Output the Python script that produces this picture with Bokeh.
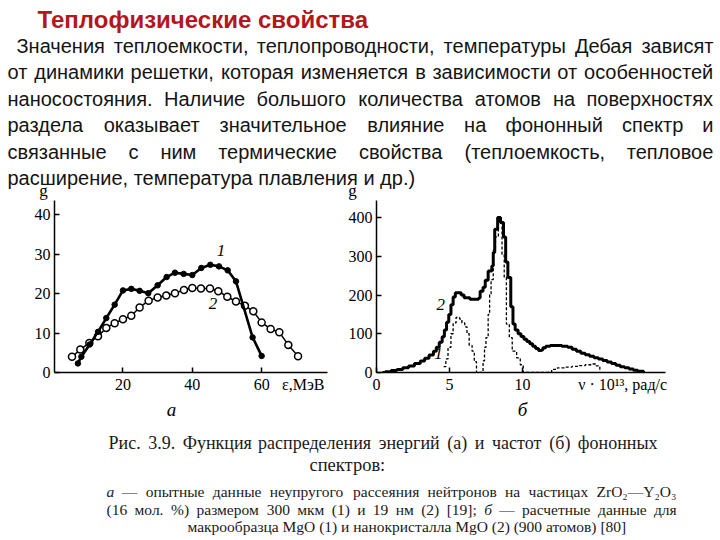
from bokeh.plotting import figure
from bokeh.layouts import column, row
from bokeh.models import Range1d, FixedTicker, Label, LinearAxis
from bokeh.core.properties import value
from bokeh.embed import file_html
from bokeh.resources import INLINE

# ---------------- text content ----------------
TITLE = "Теплофизические свойства"
PARA_LINES = [
    "Значения теплоемкости, теплопроводности, температуры Дебая зависят",
    "от динамики решетки, которая изменяется в зависимости от особенностей",
    "наносостояния. Наличие большого количества атомов на поверхностях",
    "раздела оказывает значительное влияние на фононный спектр и",
    "связанные с ним термические свойства (теплоемкость, тепловое",
    "расширение, температура плавления и др.)",
]
PARA_START = [16, 7, 7, 7, 7, 7]
PARA_JUSTIFY = [True, True, True, True, True, False]
PARA_BASE = [45, 71, 98, 124, 151, 177]
PARA_RIGHT = 713

CAPTION_LINES = [
    "Рис. 3.9. Функция распределения энергий (а) и частот (б) фононных",
    "спектров:",
    "а — опытные данные неупругого рассеяния нейтронов на частицах ZrO₂—Y₂O₃",
    "(16 мол. %) размером 300 мкм (1) и 19 нм (2) [19]; б — расчетные данные для",
    "макрообразца MgO (1) и нанокристалла MgO (2) (900 атомов) [80]",
]
CAP_START = [108, 309, 106, 106, 187]
CAP_END = [657, None, 676, 676, None]
CAP_BASE = [17, 39, 66, 84, 101]
CAP_SIZE = [18, 18.5, 15.5, 15.5, 15.5]

# ---------------- chart (а) data ----------------
A_X_TICKS = [20, 40, 60]
A_Y_TICKS = [0, 10, 20, 30, 40]
A_UNIT = {72: "ε,МэВ"}
A_NAME = {34: "а"}
a1_x = [7.0, 8.0, 10.4, 12.8, 15.2, 17.6, 20.0, 22.4, 24.8, 27.3, 30.0, 32.6,
        35.0, 37.5, 40.0, 42.6, 45.2, 47.7, 50.2, 52.6, 57.4, 60.0]
a1_y = [2.3, 4.0, 7.1, 10.3, 13.8, 17.2, 20.8, 21.2, 20.7, 20.1, 22.1, 24.2,
        25.3, 25.0, 24.7, 26.5, 27.3, 26.9, 25.9, 23.1, 8.9, 4.2]
a2_x = [5.3, 7.7, 10.3, 12.8, 15.2, 17.6, 20.0, 22.4, 24.8, 27.4, 30.0, 32.5,
        35.0, 37.6, 40.0, 42.5, 45.1, 47.5, 50.1, 52.6, 55.2, 57.6, 60.0, 62.6,
        65.1, 67.7, 70.5]
a2_y = [4.0, 5.8, 7.5, 9.2, 11.3, 12.5, 13.5, 14.4, 16.5, 18.2, 19.0, 19.5,
        20.1, 20.9, 21.4, 21.3, 21.3, 20.6, 19.2, 18.0, 16.9, 15.5, 12.7, 11.0,
        10.2, 7.0, 4.1]

# ---------------- chart (б) data (step histograms) ----------------
B_X_TICKS = [0, 5, 10]
B_Y_TICKS = [0, 100, 200, 300, 400]
B_UNIT = {17: "ν · 10¹³,  рад/с"}
B_NAME = {10: "б"}
b2_x = [0.4, 0.6, 1.0, 1.4, 1.8, 2.2, 2.6, 3.0, 3.3, 3.6, 3.9, 4.1, 4.3, 4.5,
        4.65, 4.8, 4.95, 5.1, 5.25, 5.4, 5.8, 6.0, 6.4, 7.0, 7.1, 7.3, 7.45,
        7.65, 7.9, 8.0, 8.1, 8.3, 8.5, 8.7, 8.85, 9.0, 9.2, 9.35, 9.5, 9.7,
        9.9, 10.1, 10.3, 10.5, 10.7, 10.9, 11.1, 11.3, 11.4, 11.6, 11.9, 12.3,
        12.7, 13.1, 13.4, 13.7, 14.0, 14.3, 14.6, 14.9, 15.2, 15.5, 15.8, 16.1,
        16.4, 16.7, 17.0, 17.3, 17.6, 17.9, 18.3]
b2_y = [0, 2, 5, 8, 12, 17, 23, 30, 37, 45, 55, 65, 78, 92,
        110, 130, 150, 175, 195, 206, 200, 193, 189, 192, 210, 220, 238,
        262, 275, 310, 370, 400, 387, 350, 285, 245, 170, 125, 110, 100,
        93, 86, 80, 74, 68, 62, 57, 58, 64, 68, 70, 70,
        68, 65, 60, 55, 50, 46, 42, 38, 35, 31, 27, 23,
        19, 15, 12, 9, 6, 3, 0]
b1_x = [4.6, 4.75, 4.9, 5.1, 5.25, 5.45, 5.7, 5.85, 6.05, 6.2, 6.35, 6.55, 6.7,
        6.85, 7.3, 7.4, 7.5, 7.65, 7.75, 7.85, 8.0, 8.15, 8.35, 8.6, 8.75, 8.9,
        9.1, 9.3, 9.6, 9.85, 10.05, 12.0, 12.4, 12.9, 13.4, 13.9, 14.3, 14.7,
        15.0, 15.3]
b1_y = [15, 35, 65, 100, 128, 142, 138, 128, 118, 100, 70, 55, 28,
        0, 30, 65, 90, 150, 200, 240, 315, 350, 385, 305, 245, 125,
        90, 55, 38, 20, 0, 8, 12, 14, 16, 18, 20, 22,
        17, 0]

# y-axis name ("g") of each chart, placed just above its axis
G_LABEL_X = [43, 352]
G_LABEL_BASE = 190

SERIF = "Liberation Serif"
SANS = "Liberation Sans"

# approximate advance widths (1/1000 em) used to justify lines
SANS_W = {'а': 556, 'б': 573, 'в': 531, 'г': 365, 'д': 583, 'е': 556, 'ж': 669, 'з': 458,
          'и': 559, 'й': 559, 'к': 438, 'л': 583, 'м': 688, 'н': 552, 'о': 556, 'п': 542,
          'р': 556, 'с': 500, 'т': 458, 'у': 500, 'ф': 823, 'х': 500, 'ц': 573, 'ч': 521,
          'ш': 802, 'щ': 823, 'ъ': 625, 'ы': 719, 'ь': 521, 'э': 510, 'ю': 750, 'я': 542,
          'З': 604, 'Д': 677, 'Н': 722, ',': 278, '.': 278, '(': 333, ')': 333}
SERIF_W = {'а': 444, 'б': 500, 'в': 472, 'г': 410, 'д': 499, 'е': 444, 'ж': 691, 'з': 395,
           'и': 535, 'й': 535, 'к': 486, 'л': 499, 'м': 633, 'н': 535, 'о': 500, 'п': 535,
           'р': 500, 'с': 444, 'т': 437, 'у': 500, 'ф': 648, 'х': 500, 'ц': 535, 'ч': 503,
           'ш': 770, 'щ': 770, 'ъ': 517, 'ы': 672, 'ь': 456, 'э': 429, 'ю': 747, 'я': 460,
           'Р': 556, 'Ф': 713, 'Z': 611, 'r': 333, 'O': 722, 'Y': 722, 'M': 889, 'g': 500,
           '.': 250, ',': 250, ';': 278, ':': 278, '(': 333, ')': 333, '[': 333, ']': 333,
           '%': 833, '—': 1000, '₂': 350, '₃': 350}


def justify(words, table, size, x0, x1):
    wl = [sum(table.get(c, 500) for c in w) * size / 1000.0 for w in words]
    gap = (x1 - x0 - sum(wl)) / max(1, len(words) - 1)
    xs, x = [], x0
    for w in wl:
        xs.append(x)
        x += w + gap
    return xs


def blank(w, h):
    p = figure(width=w, height=h, x_range=Range1d(0, w), y_range=Range1d(h, 0),
               output_backend="svg", toolbar_location=None,
               x_axis_type=None, y_axis_type=None, min_border=0)
    p.outline_line_color = None
    p.background_fill_color = "white"
    return p


# ---------------- top text ----------------
top = blank(720, 200)
top.text(x=[37], y=[19], text=[TITLE], text_font=value(SANS), text_font_size="24px",
         text_font_style="bold", text_color="#b3161c", text_baseline="alphabetic")
wx, wy, wt = [], [], []
for line, x0, jus, base in zip(PARA_LINES, PARA_START, PARA_JUSTIFY, PARA_BASE):
    if jus:
        words = line.split(" ")
        xs = justify(words, SANS_W, 20, x0, PARA_RIGHT)
    else:
        words, xs = [line], [x0]
    wx += xs; wt += words; wy += [base] * len(words)
top.text(x=wx, y=wy, text=wt, text_font=value(SANS), text_font_size="20px",
         text_color="#141414", text_baseline="alphabetic", text_align="left")
top.text(x=G_LABEL_X, y=[G_LABEL_BASE] * len(G_LABEL_X), text=["g"] * len(G_LABEL_X),
         text_font=value(SERIF), text_font_size="17px", text_color="black",
         text_baseline="alphabetic", text_align="center")


def style_axes(p, xt, yt):
    p.xaxis.ticker = FixedTicker(ticks=xt)
    p.yaxis.ticker = FixedTicker(ticks=yt)
    for ax in (p.xaxis[0], p.yaxis[0]):
        ax.axis_line_width = 1.5
        ax.axis_line_color = "black"
        ax.major_tick_in = 5
        ax.major_tick_out = 0
        ax.major_tick_line_width = 1.5
        ax.minor_tick_line_color = None
        ax.major_label_text_font = SERIF
        ax.major_label_text_font_size = "16px"
        ax.major_label_text_color = "black"
    # main x axis: line + ticks only; its labels come from the label axis below
    p.xaxis[0].major_label_overrides = {t: "" for t in xt}
    p.xaxis[0].major_label_text_font_size = "0px"
    p.xaxis[0].major_label_standoff = 0
    p.yaxis[0].major_label_standoff = 4
    p.grid.visible = False
    p.outline_line_color = None


def label_axis(p, ticks, overrides, size, style, standoff):
    ax = LinearAxis(ticker=FixedTicker(ticks=ticks), major_label_overrides=overrides,
                    axis_line_color=None, major_tick_line_color=None,
                    minor_tick_line_color=None, major_tick_in=0, major_tick_out=0,
                    major_label_text_font=SERIF, major_label_text_font_size=size,
                    major_label_text_font_style=style, major_label_text_color="black",
                    major_label_standoff=standoff)
    p.add_layout(ax, "below")


def lab(p, x, y, t, size="17px"):
    p.add_layout(Label(x=x, y=y, text=t, text_font=SERIF, text_font_size=size,
                       text_font_style="italic", text_align="center", text_baseline="middle",
                       text_color="black"))


# ---------------- chart а ----------------
pa = figure(width=335, height=225, x_range=Range1d(0.25, 79), y_range=Range1d(0, 43.6),
            output_backend="svg", toolbar_location=None,
            min_border_left=54, min_border_right=8, min_border_top=0, min_border_bottom=53)
style_axes(pa, A_X_TICKS, A_Y_TICKS)
label_axis(pa, A_X_TICKS + list(A_UNIT), A_UNIT, "16px", "normal", 3)
label_axis(pa, list(A_NAME), A_NAME, "19px", "italic", 3)
pa.line(a2_x, a2_y, line_width=1.5, color="black")
pa.scatter(a2_x, a2_y, size=7, fill_color="white", line_color="black", line_width=1.5)
pa.line(a1_x, a1_y, line_width=2.6, color="black")
pa.scatter(a1_x, a1_y, size=5.5, color="black")
lab(pa, 48.3, 30.9, "1")
lab(pa, 46.0, 17.4, "2")

# ---------------- chart б ----------------
pb = figure(width=385, height=225, x_range=Range1d(0, 19.8), y_range=Range1d(0, 444),
            output_backend="svg", toolbar_location=None,
            min_border_left=41, min_border_right=55, min_border_top=0, min_border_bottom=53)
style_axes(pb, B_X_TICKS, B_Y_TICKS)
label_axis(pb, B_X_TICKS + list(B_UNIT), B_UNIT, "16px", "normal", 3)
label_axis(pb, list(B_NAME), B_NAME, "19px", "italic", 3)
pb.step(b1_x, b1_y, mode="after", line_width=1.3, line_dash="3 2", color="black")
pb.step(b2_x, b2_y, mode="after", line_width=3, color="black")
lab(pb, 4.4, 175, "2")
lab(pb, 4.25, 48, "1")

# ---------------- caption ----------------
cap = blank(720, 115)
cx, cy, ct, cs, cf = [], [], [], [], []
for line, x0, x1, base, size in zip(CAPTION_LINES, CAP_START, CAP_END, CAP_BASE, CAP_SIZE):
    if x1 is not None:
        words = line.split(" ")
        xs = justify(words, SERIF_W, size, x0, x1)
    else:
        words, xs = [line], [x0]
    cx += xs; ct += words; cy += [base] * len(words)
    cs += ["%gpx" % size] * len(words)
    cf += ["italic" if w in ("а", "б") else "normal" for w in words]
cap.text(x=cx, y=cy, text=ct, text_font=value(SERIF), text_font_size=cs,
         text_font_style=cf, text_color="#1a1a1a", text_baseline="alphabetic",
         text_align="left")

layout = column(top, row(pa, pb, spacing=0), cap, spacing=0)
open("out.html", "w").write(file_html(layout, INLINE))
